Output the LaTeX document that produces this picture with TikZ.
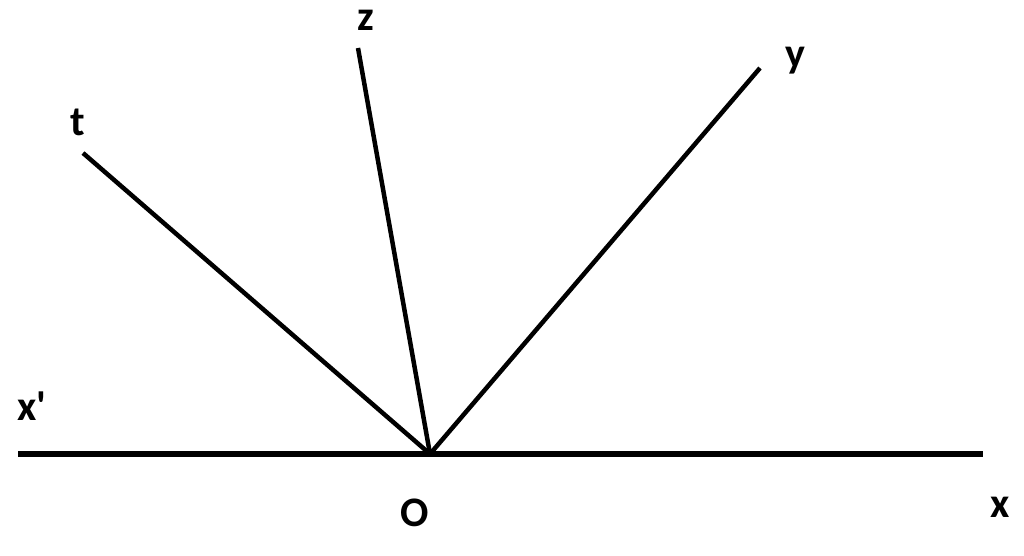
\documentclass[tikz,border=0pt]{standalone}
\usepackage{fontspec}
\setmainfont{Carlito}
\begin{document}
\begin{tikzpicture}[x=1pt,y=-1pt,
  ray/.style={line width=4.5pt,line cap=butt},
  lbl/.style={font=\fontsize{42}{42}\selectfont\bfseries,inner sep=0pt}]
\useasboundingbox (0,0) rectangle (1024,556);
\coordinate (L) at (18,454);
\coordinate (R) at (983,454);
\coordinate (O) at (430,454);
\coordinate (T) at (83,153);
\coordinate (Z) at (358,48);
\coordinate (Y) at (760,68);
\draw[line width=5.5pt] (L) -- (R);
\draw[ray] (T) -- (O);
\draw[ray] (Z) -- (O);
\draw[ray] (Y) -- (O);
\node[lbl] (lt) at (78,122) {t};
\node[lbl] (lz) at (366,20) {z};
\node[lbl] (ly) at (795,61) {y};
\node[lbl] (lxp) at (32,406) {x\textquotesingle};
\node[lbl] (lo) at (415,513) {O};
\node[lbl] (lx) at (1000,507) {x};
\end{tikzpicture}
\end{document}
